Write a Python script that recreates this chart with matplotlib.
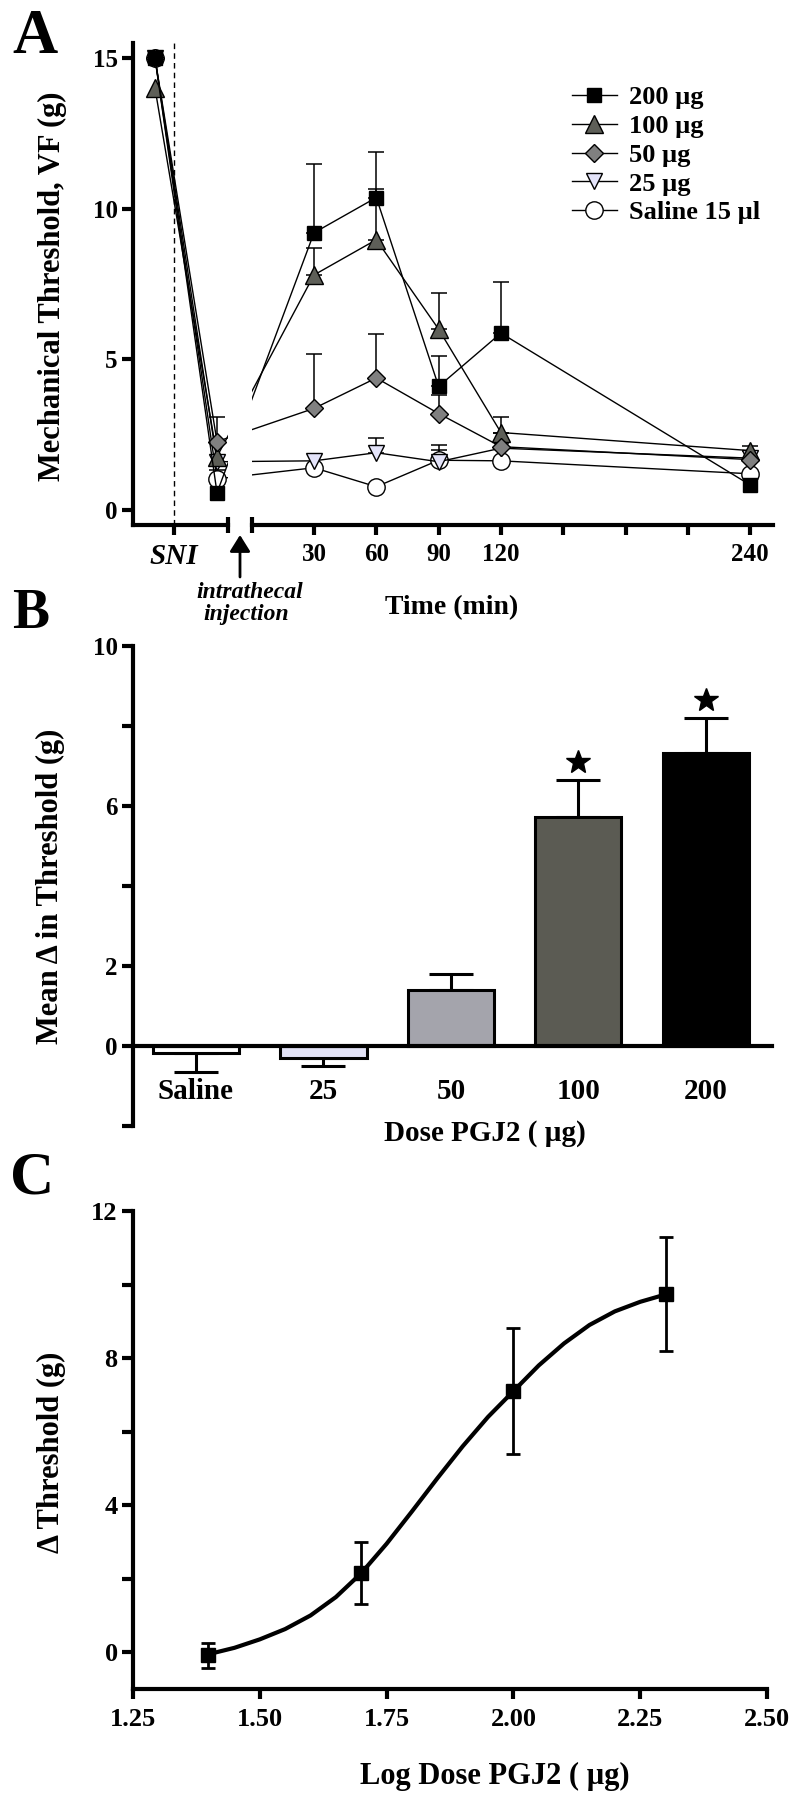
import numpy as np
import matplotlib
matplotlib.use('Agg')
import matplotlib.pyplot as plt
from matplotlib.patches import FancyArrowPatch

plt.rcParams['font.family'] = ['Liberation Serif', 'DejaVu Serif']
plt.rcParams['font.weight'] = 'bold'
plt.rcParams['axes.linewidth'] = 3

# ---- panel A: threshold over time (baseline, post-SNI, then minutes after injection)
post_times = [30, 60, 90, 120, 240]
time_ticks = [30, 60, 90, 120, 150, 180, 210, 240]
time_labels = ['30', '60', '90', '120', '', '', '', '240']
series_labels = ['200 µg', '100 µg', '50 µg', '25 µg', 'Saline 15 µl']
thr_200 = [15.0, 0.57, 9.20, 10.37, 4.10, 5.87, 0.83]
err_200 = [0, 0, 2.30, 1.50, 1.00, 1.70, 0]
thr_100 = [14.0, 1.77, 7.80, 8.97, 6.00, 2.57, 1.97]
err_100 = [0, 0, 0.90, 1.70, 1.20, 0.50, 0.15]
thr_50 = [15.0, 2.27, 3.37, 4.38, 3.20, 2.10, 1.67]
err_50 = [0, 0.83, 1.80, 1.45, 0.60, 0.45, 0]
thr_25 = [15.0, 1.60, 1.63, 1.90, 1.60, 2.05, 1.72]
err_25 = [0, 0, 0, 0.50, 0.57, 0, 0]
thr_sal = [15.0, 1.03, 1.40, 0.77, 1.65, 1.63, 1.20]
err_sal = [0, 0.30, 0, 0, 0.35, 0, 0]

# ---- panel B: mean change in threshold per dose
doses_B = ['Saline', '25', '50', '100', '200']
delta_mean = [-0.18, -0.30, 1.40, 5.72, 7.32]
delta_sem = [0.47, 0.20, 0.40, 0.93, 0.88]
significant = [False, False, False, True, True]

# ---- panel C: log dose response with fitted curve (curve)
log_dose = [1.398, 1.699, 2.000, 2.301]
delta_thr = [-0.08, 2.15, 7.10, 9.73]
delta_thr_sem = [0.34, 0.85, 1.72, 1.55]
fit_x = [1.40, 1.45, 1.50, 1.55, 1.60, 1.65, 1.70, 1.75, 1.80, 1.85,
         1.90, 1.95, 2.00, 2.05, 2.10, 2.15, 2.20, 2.25, 2.30]
fit_y = [-0.05, 0.12, 0.35, 0.63, 1.00, 1.50, 2.15, 2.95, 3.83, 4.73,
         5.60, 6.40, 7.10, 7.80, 8.40, 8.90, 9.27, 9.53, 9.73]

W, H = 800, 1800


def fx(px):
    return px / W


def fy(py):
    return 1 - py / H


def rect(x0, y0, x1, y1):
    return [x0 / W, 1 - y1 / H, (x1 - x0) / W, (y1 - y0) / H]


fig = plt.figure(figsize=(8, 18), dpi=100)

# ================= Panel A (broken x axis) =================
axL = fig.add_axes(rect(133, 43, 228, 525))
axR = fig.add_axes(rect(251.7, 43, 773, 525))
ppm = (773 - 251.7) / 251.0          # pixels per minute, shared by both halves
xl_left = (133 - 251.7) / ppm
xl_right = (228 - 251.7) / ppm
bl_x = (155 - 251.7) / ppm
sni_x = (174 - 251.7) / ppm
post_x = (217 - 251.7) / ppm
x_all = [bl_x, post_x] + post_times

styles = [
    dict(marker='s', ms=10, mfc='black', z=7),
    dict(marker='^', ms=13, mfc='#5e5f58', z=5),
    dict(marker='D', ms=9.5, mfc='#808080', z=6),
    dict(marker='v', ms=12, mfc='#e4e4fa', z=4),
    dict(marker='o', ms=12.5, mfc='white', z=3),
]
all_thr = [thr_200, thr_100, thr_50, thr_25, thr_sal]
all_err = [err_200, err_100, err_50, err_25, err_sal]

handles = []
for ax in (axL, axR):
    for thr, err, st, lab in zip(all_thr, all_err, styles, series_labels):
        idx = [i for i, e in enumerate(err) if e > 0]
        if idx:
            ax.errorbar([x_all[i] for i in idx], [thr[i] for i in idx],
                        yerr=[[0] * len(idx), [err[i] for i in idx]],
                        fmt='none', ecolor='black', elinewidth=1.1,
                        capsize=5.5, capthick=1.1, zorder=2)
        ln, = ax.plot(x_all, thr, color='black', lw=1.0, marker=st['marker'],
                      ms=st['ms'], mfc=st['mfc'], mec='black', mew=1.0,
                      zorder=st['z'], label=lab)
        if ax is axR:
            handles.append(ln)
    ax.set_ylim(-0.5, 15.5)
    ax.spines['top'].set_visible(False)
    ax.spines['right'].set_visible(False)
    ax.tick_params(axis='x', direction='out', length=7, width=3, pad=6, labelsize=18)

axL.set_xlim(xl_left, xl_right)
axR.set_xlim(0, 251)
axL.set_yticks([0, 5, 10, 15])
axL.tick_params(axis='y', direction='out', length=8, width=3, pad=3, labelsize=18)
axL.set_xticks([sni_x])
axL.set_xticklabels(['SNI'], fontstyle='italic', fontsize=21)
axL.axvline(sni_x, color='black', lw=1.0, ls=(0, (4, 3)), zorder=1)
axR.spines['left'].set_visible(False)
axR.set_yticks([])
axR.set_xticks(time_ticks)
axR.set_xticklabels(time_labels)

# break marks at the ends of the two axis pieces
axL.plot([1, 1], [-0.016, 0.016], transform=axL.transAxes, clip_on=False,
         color='black', lw=3, solid_capstyle='butt')
axR.plot([0, 0], [-0.016, 0.016], transform=axR.transAxes, clip_on=False,
         color='black', lw=3, solid_capstyle='butt')

axR.legend(handles=handles, loc='upper left',
           bbox_to_anchor=(fx(572), fy(86)), bbox_transform=fig.transFigure,
           frameon=False, borderpad=0, borderaxespad=0, handlelength=1.7,
           handletextpad=0.45, labelspacing=0.2, fontsize=19, numpoints=1)

fig.text(fx(52), fy(286), 'Mechanical Threshold, VF (g)', rotation=90,
         ha='center', va='center', fontsize=22)
fig.text(fx(452), fy(614), 'Time (min)', ha='center', va='baseline', fontsize=20)
fig.text(fx(250), fy(598), 'intrathecal', ha='center', va='baseline',
         fontsize=17, fontstyle='italic')
fig.text(fx(246), fy(620), 'injection', ha='center', va='baseline',
         fontsize=17, fontstyle='italic')
fig.add_artist(FancyArrowPatch((fx(240), fy(577)), (fx(240), fy(535)),
                               transform=fig.transFigure,
                               arrowstyle='-|>,head_length=0.4,head_width=0.25',
                               mutation_scale=25, lw=2, color='black',
                               shrinkA=0, shrinkB=0))
fig.text(fx(12), fy(53), 'A', fontsize=45, va='baseline')

# ================= Panel B (bars) =================
axB = fig.add_axes(rect(133, 646, 772, 1126))
xb = np.arange(len(doses_B))
bar_colors = ['white', '#e2e2f6', '#a4a4ac', '#5b5b53', 'black']
lower = [s if m < 0 else 0 for m, s in zip(delta_mean, delta_sem)]
upper = [s if m >= 0 else 0 for m, s in zip(delta_mean, delta_sem)]
axB.errorbar(xb, delta_mean, yerr=[lower, upper], fmt='none', ecolor='black',
             elinewidth=2.2, capsize=15.5, capthick=2.2, zorder=1)
axB.bar(xb, delta_mean, width=0.675, color=bar_colors, edgecolor='black',
        linewidth=2.2, zorder=2)
for x, m, s, sig in zip(xb, delta_mean, delta_sem, significant):
    if sig:
        axB.plot(x, m + s + 0.45, marker='*', ms=18, color='black', zorder=3)
axB.set_xlim(-0.494, 4.518)
axB.set_ylim(-2, 10)
axB.spines['top'].set_visible(False)
axB.spines['right'].set_visible(False)
axB.spines['bottom'].set_position(('data', 0))
axB.set_xticks(xb)
axB.set_xticklabels(doses_B)
axB.tick_params(axis='x', length=0, pad=23, labelsize=21)
axB.set_yticks([-2, 0, 2, 4, 6, 8, 10])
axB.set_yticklabels(['', '0', '2', '', '6', '', '10'])
axB.tick_params(axis='y', direction='out', length=8, width=3, pad=3, labelsize=18)
fig.text(fx(50), fy(886), 'Mean Δ in Threshold (g)', rotation=90,
         ha='center', va='center', fontsize=22)
fig.text(fx(485), fy(1141), 'Dose PGJ2 ( µg)', ha='center', va='baseline', fontsize=21)
fig.text(fx(12), fy(628), 'B', fontsize=40, va='baseline')

# ================= Panel C (dose response) =================
axC = fig.add_axes(rect(133, 1211, 767, 1689))
axC.plot(fit_x, fit_y, color='black', lw=3, zorder=2,
         solid_capstyle='round', solid_joinstyle='round')
axC.errorbar(log_dose, delta_thr, yerr=delta_thr_sem, fmt='s', ms=10,
             color='black', elinewidth=2, capsize=5, capthick=2, zorder=3)
axC.set_xlim(1.25, 2.5)
axC.set_ylim(-1, 12)
axC.spines['top'].set_visible(False)
axC.spines['right'].set_visible(False)
axC.set_xticks([1.25, 1.50, 1.75, 2.00, 2.25, 2.50])
axC.set_xticklabels(['1.25', '1.50', '1.75', '2.00', '2.25', '2.50'])
axC.set_yticks([0, 2, 4, 6, 8, 10, 12])
axC.set_yticklabels(['0', '', '4', '', '8', '', '12'])
axC.tick_params(axis='x', direction='out', length=7, width=3, pad=7, labelsize=19)
axC.tick_params(axis='y', direction='out', length=8, width=3, pad=3, labelsize=19)
fig.text(fx(51), fy(1452), 'Δ Threshold (g)', rotation=90,
         ha='center', va='center', fontsize=22)
fig.text(fx(495), fy(1784), 'Log Dose PGJ2 ( µg)', ha='center', va='baseline', fontsize=22)
fig.text(fx(10), fy(1194), 'C', fontsize=44, va='baseline')

fig.savefig('out.png', dpi=100)
